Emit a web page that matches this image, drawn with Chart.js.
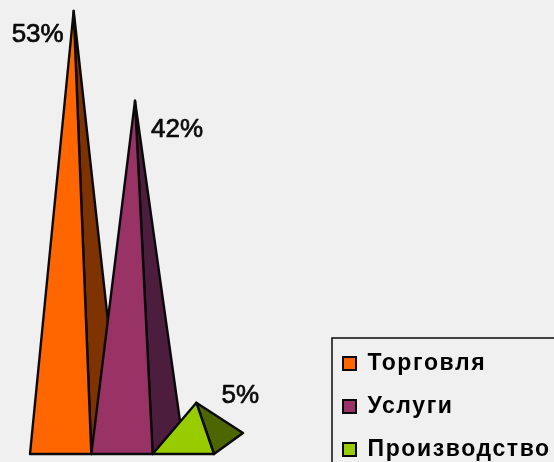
<!DOCTYPE html>
<html>
<head>
<meta charset="utf-8">
<style>html,body{margin:0;padding:0;background:#f0f0f0;overflow:hidden}canvas{display:block}</style>
<script src="https://cdn.jsdelivr.net/npm/chart.js@4/dist/chart.umd.min.js"></script>
</head>
<body>
<canvas id="c" width="554" height="462"></canvas>
<script>
const categories = ["Торговля", "Услуги", "Производство"];
const shares = [53, 42, 5];
const frontColors = ["#FF6600", "#993366", "#99CC00"];
const sideColors = ["#7F3300", "#4D1D3E", "#4D6600"];

// Presentation settings
const depth = {dx: 29, dy: -21, apexShift: 13};
const labelOffsets = [{x: -36, y: 24}, {x: 42, y: 29}, {x: 44, y: -7}];
const INK = "#0a0a0a";
const frame = {left: 332, top: 338};

const pyramids = {
  id: "pyramids",
  beforeDatasetDraw(chart, args) {
    const ctx = chart.ctx;
    const meta = args.meta;
    ctx.save();
    ctx.lineJoin = "round";
    ctx.strokeStyle = INK;
    ctx.lineWidth = 2.4;
    meta.data.forEach((bar, i) => {
      const l = bar.x - bar.width / 2, r = bar.x + bar.width / 2;
      const fy = bar.base - depth.dy / 2;
      const ax = bar.x + depth.apexShift, ay = bar.y;
      ctx.fillStyle = sideColors[i];
      ctx.beginPath();
      ctx.moveTo(r, fy); ctx.lineTo(r + depth.dx, fy + depth.dy); ctx.lineTo(ax, ay); ctx.closePath();
      ctx.fill(); ctx.stroke();
      ctx.fillStyle = frontColors[i];
      ctx.beginPath();
      ctx.moveTo(l, fy); ctx.lineTo(r, fy); ctx.lineTo(ax, ay); ctx.closePath();
      ctx.fill(); ctx.stroke();
    });
    ctx.font = "26px 'Liberation Sans', Arial, sans-serif";
    ctx.textAlign = "center";
    ctx.textBaseline = "middle";
    ctx.fillStyle = INK;
    ctx.strokeStyle = INK;
    ctx.lineWidth = 0.7;
    ctx.letterSpacing = "0px";
    meta.data.forEach((bar, i) => {
      const ax = bar.x + depth.apexShift;
      const tx = ax + labelOffsets[i].x, ty = bar.y + labelOffsets[i].y;
      ctx.fillText(shares[i] + "%", tx, ty);
      ctx.strokeText(shares[i] + "%", tx, ty);
    });
    ctx.restore();
    return false;
  }
};

const legendPlacer = {
  id: "legendPlacer",
  afterLayout(chart) {
    const lg = chart.legend;
    const pad = lg.options.labels.padding;
    lg.left = frame.left + 11 - pad;
    lg.top = frame.top + 14 - pad;
    lg.right = 700;
    lg.bottom = 700;
    lg.width = lg.right - lg.left;
    lg.height = lg.bottom - lg.top;
  },
  beforeDraw(chart) {
    const ctx = chart.ctx;
    ctx.save();
    ctx.strokeStyle = INK;
    ctx.lineWidth = 1.5;
    ctx.strokeRect(frame.left, frame.top, 300, 200);
    ctx.restore();
    ctx.letterSpacing = "1.6px";
  }
};

new Chart(document.getElementById("c"), {
  type: "bar",
  data: {
    labels: categories,
    datasets: [{data: shares, backgroundColor: frontColors, barPercentage: 1, categoryPercentage: 1}]
  },
  options: {
    responsive: false,
    animation: false,
    devicePixelRatio: 1,
    layout: {padding: {left: 30, right: 340, top: 11, bottom: 18.5}},
    scales: {
      x: {display: false},
      y: {display: false, min: 0, max: 53}
    },
    plugins: {
      tooltip: {enabled: false},
      legend: {
        position: "chartArea",
        align: "start",
        labels: {
          boxWidth: 13,
          boxHeight: 13,
          padding: 20,
          color: INK,
          font: {family: "'Liberation Sans', Arial, sans-serif", size: 23, weight: "bold"},
          generateLabels: () => categories.map((t, i) => ({
            text: t, fillStyle: frontColors[i], strokeStyle: INK, lineWidth: 2, hidden: false, index: i
          }))
        }
      }
    }
  },
  plugins: [legendPlacer, pyramids]
});
</script>
</body>
</html>
